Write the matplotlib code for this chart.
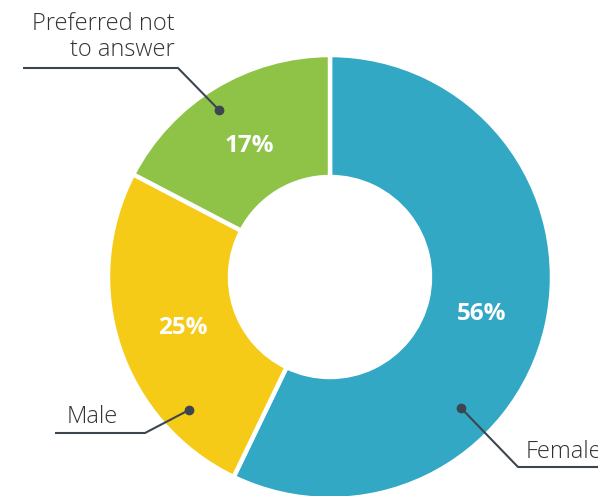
import numpy as np
import matplotlib.pyplot as plt

#%% data
labels = ['Female', 'Male', 'Preferred not\nto answer']
values = [56, 25, 17]
pct_text = ['56%', '25%', '17%']
colors = ['#33a8c4', '#f6cb18', '#8fc347']

W, H = 598, 496
line_col = '#3b4650'
txt_col = '#333333'

fig = plt.figure(figsize=(W / 100, H / 100), dpi=100)
ax = fig.add_axes([0, 0, 1, 1])

cx, cy, R = 330, H - 277, 222
wedges, _ = ax.pie(values, colors=colors, startangle=90, counterclock=False,
                   center=(cx, cy), radius=R, frame=True,
                   wedgeprops=dict(width=122, edgecolor='white', linewidth=3.2))
ax.set_xlim(0, W)
ax.set_ylim(0, H)
ax.axis('off')

#%% percentages inside the ring
for w, t in zip(wedges, pct_text):
    a = np.deg2rad((w.theta1 + w.theta2) / 2)
    r = 0.7 * R
    ax.text(cx + r * np.cos(a), cy + r * np.sin(a) - 2, t, color='white',
            fontsize=17.5, fontweight='bold', family='Open Sans',
            ha='center', va='center')

#%% leader lines (pixel positions, y from the top)
def leader(pts, dot):
    xs = [p[0] for p in pts] + [dot[0]]
    ys = [H - p[1] for p in pts] + [H - dot[1]]
    ax.plot(xs, ys, color=line_col, lw=1.5, solid_capstyle='butt')
    ax.plot(dot[0], H - dot[1], 'o', color=line_col, ms=6)

leader([(23, 68), (178, 68)], (219, 110))
leader([(55, 433), (145, 433)], (189, 410))
leader([(W, 467), (518, 467)], (461, 408))

ax.text(175, H - 37, labels[2], ha='right', va='center', fontsize=17,
        fontweight='light', family='Open Sans', color=txt_col, linespacing=1.15)
ax.text(67, H - 417, labels[1], ha='left', va='center', fontsize=17,
        fontweight='light', family='Open Sans', color=txt_col)
ax.text(526, H - 452, labels[0], ha='left', va='center', fontsize=17,
        fontweight='light', family='Open Sans', color=txt_col)

fig.savefig('out.png', dpi=100)
